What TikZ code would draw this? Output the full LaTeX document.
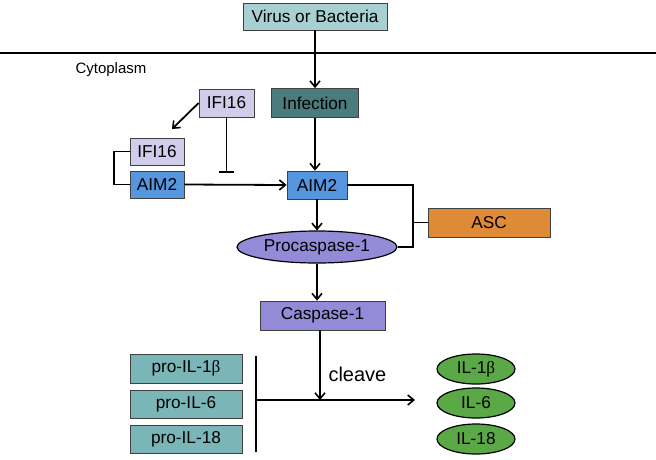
\documentclass[tikz,border=0pt]{standalone}
\usepackage{fontspec}
\setmainfont{Liberation Sans}
\newfontfamily\grk{Liberation Serif}
\usetikzlibrary{arrows.meta,shapes.geometric}
\definecolor{cVirus}{HTML}{A8D0D2}
\definecolor{cInf}{HTML}{4B7B7C}
\definecolor{cIfi}{HTML}{D0CDEA}
\definecolor{cAim}{HTML}{5596DE}
\definecolor{cPur}{HTML}{938BD8}
\definecolor{cAsc}{HTML}{DE8A36}
\definecolor{cPro}{HTML}{7AB6B8}
\definecolor{cIl}{HTML}{5AA846}
\definecolor{cBord}{HTML}{404040}
\tikzset{
  x=1pt,y=-1pt,
  boxnode/.style={draw=cBord,line width=0.8pt,inner sep=0pt,font=\fontsize{17.2}{19}\selectfont},
  ellnode/.style={ellipse,draw=black,line width=1.2pt,inner sep=0pt,font=\fontsize{17.2}{19}\selectfont},
  conn/.style={line width=1.8pt},
  arr/.style={conn,-{Straight Barb[length=6pt,width=10pt,line width=1.6pt]}},
  inhib/.style={conn,-{Bar[width=15pt,line width=1.8pt]}}
}
\begin{document}
\begin{tikzpicture}
\useasboundingbox (0,0) rectangle (656,459);
% membrane
\coordinate (ml) at (0,53);
\coordinate (mr) at (656,53);
\draw[conn] (ml) -- (mr);
\node[anchor=west,font=\fontsize{15}{17}\selectfont] (cyto) at (72,70) {Cytoplasm};

\node[boxnode,fill=cVirus,minimum width=144pt,minimum height=27pt] (virus) at (315,16.5) {Virus or Bacteria};
\node[boxnode,fill=cInf,minimum width=87pt,minimum height=29pt] (inf) at (315,103) {Infection};
\node[boxnode,fill=cIfi,minimum width=55pt,minimum height=28pt] (ifia) at (226.5,103) {IFI16};
\node[boxnode,fill=cIfi,minimum width=54pt,minimum height=27pt] (ifib) at (157,151.5) {IFI16};
\node[boxnode,fill=cAim,minimum width=54pt,minimum height=27pt] (aima) at (157,184.5) {AIM2};
\node[boxnode,fill=cAim,minimum width=60pt,minimum height=28pt] (aimb) at (317,185) {AIM2};
\node[ellnode,fill=cPur,minimum width=160pt,minimum height=32pt] (proc) at (317,247) {Procaspase-1};
\node[boxnode,fill=cAsc,minimum width=122pt,minimum height=29pt] (asc) at (489,222.5) {ASC};
\node[boxnode,fill=cPur,minimum width=125pt,minimum height=29pt] (casp) at (322.5,315.5) {Caspase-1};

\node[boxnode,fill=cPro,minimum width=112pt,minimum height=29pt] (pro1) at (186,368.5) {pro-IL-1{\grk β}};
\node[boxnode,fill=cPro,minimum width=112pt,minimum height=28pt] (pro2) at (186,404) {pro-IL-6};
\node[boxnode,fill=cPro,minimum width=112pt,minimum height=28pt] (pro3) at (186,439) {pro-IL-18};

\node[ellnode,fill=cIl,minimum width=78pt,minimum height=30pt] (il1) at (476,369) {IL-1{\grk β}};
\node[ellnode,fill=cIl,minimum width=78pt,minimum height=30pt] (il2) at (476,403) {IL-6};
\node[ellnode,fill=cIl,minimum width=78pt,minimum height=30pt] (il3) at (476,439) {IL-18};

% connectors
\draw[arr] (virus.south) -- (inf.north);
\draw[arr] (inf.south) -- (inf.south |- aimb.north);
\coordinate (ifitip) at (172,129);
\draw[arr] (ifia.west) -- (ifitip);
\coordinate (inhend) at (226.5,173);
\draw[inhib] (ifia.south) -- (inhend);
\draw[conn] (ifib.west) -- ++(-16,0) |- (aima.west);
\draw[arr] (aima.east) -- (aimb.west);
\coordinate (rb) at (413,185);
\coordinate (rm) at (413,222.5);
\draw[conn] (aimb.east) -- (rb) |- (proc.east);
\draw[conn] (rm) -- (asc.west);
\draw[arr] (aimb.south) -- (proc.north);
\draw[arr] (proc.south) -- (proc.south |- casp.north);
\coordinate (jn) at (320,400);
\coordinate (bart) at (256,356);
\coordinate (barb) at (256,452);
\coordinate (barm) at (256,400);
\coordinate (htip) at (415,400);
\draw[conn] (bart) -- (barb);
\draw[arr] (barm) -- (htip);
\draw[arr] (casp.south -| jn) -- (jn);
\node[anchor=west,font=\fontsize{20}{22}\selectfont] (cleave) at (325,374) {cleave};
\end{tikzpicture}
\end{document}
